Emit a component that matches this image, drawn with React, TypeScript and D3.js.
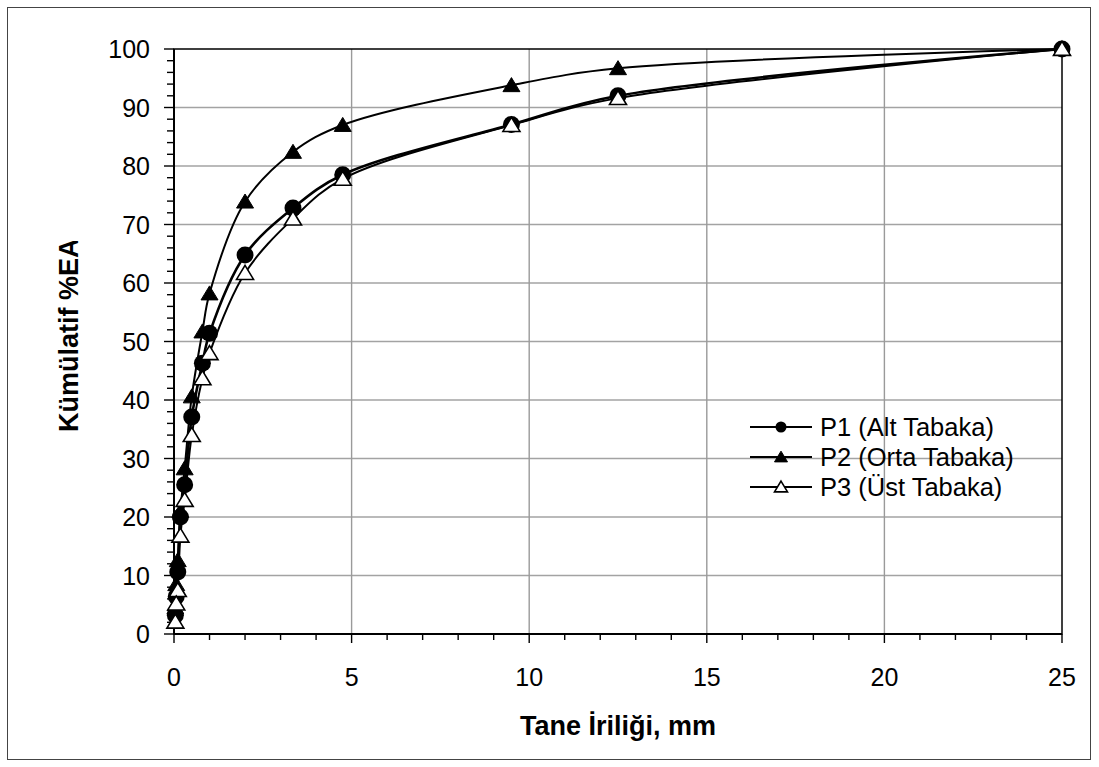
import React from 'react';
import * as d3 from 'd3';

// sieve openings (mm) and cumulative passing (%) for the three layers
const sieveSizes = [25, 12.5, 9.5, 4.75, 3.35, 2, 1, 0.8, 0.5, 0.3, 0.18, 0.106, 0.063, 0.038];
const p1Values = [100, 92, 87.1, 78.5, 72.8, 64.8, 51.4, 46.3, 37.1, 25.5, 20.0, 10.6, 6.4, 3.2];
const p2Values = [100, 96.7, 93.8, 87.0, 82.4, 73.9, 58.2, 51.7, 40.6, 28.3, 21.0, 12.6, 8.5, 4.5];
const p3Values = [100, 91.6, 87.0, 77.8, 71.0, 61.7, 48.0, 43.7, 34.0, 22.9, 16.8, 7.5, 5.2, 2.1];

const seriesNames = ['P1 (Alt Tabaka)', 'P2 (Orta Tabaka)', 'P3 (Üst Tabaka)'];
const xTitle = 'Tane İriliği, mm';
const yTitle = 'Kümülatif %EA';

const W = 1099, H = 767;
const left = 174, right = 1062, top = 49, bottom = 634;
const font = '"Liberation Sans", Arial, sans-serif';

const triPath = (s) => `M0,${-s * 0.9}L${s},${s * 0.75}L${-s},${s * 0.75}Z`;

function Marker({ kind, cx, cy, small }) {
    if (kind === 'circle') {
        return <circle cx={cx} cy={cy} r={small ? 5.5 : 8.5} fill="#000" />;
    }
    const s = small ? 6.5 : 8.5;
    return (
        <path d={triPath(s)} transform={`translate(${cx},${cy})`}
            fill={kind === 'tri' ? '#000' : '#fff'} stroke="#000"
            strokeWidth={kind === 'tri' ? 1 : 1.6} strokeLinejoin="miter" />
    );
}

export default function App() {
    const x = d3.scaleLinear().domain([0, 25]).range([left, right]);
    const y = d3.scaleLinear().domain([0, 100]).range([bottom, top]);

    const line = d3.line()
        .x(d => x(d[0]))
        .y(d => y(d[1]))
        .curve(d3.curveCatmullRom.alpha(0.5));

    const series = [
        { name: seriesNames[0], values: p1Values, kind: 'circle', width: 2.6 },
        { name: seriesNames[1], values: p2Values, kind: 'tri', width: 2 },
        { name: seriesNames[2], values: p3Values, kind: 'open', width: 2 },
    ];

    const xMajor = d3.range(0, 26, 5);
    const xMinor = d3.range(0, 26, 1);
    const yMajor = d3.range(0, 101, 10);
    const yMinor = d3.range(0, 101, 2);

    const legendRows = [427, 457, 487];

    return (
        <svg width={W} height={H} style={{ position: 'absolute', left: 0, top: 0, background: '#fff' }}
            fontFamily={font}>
            <defs>
                <clipPath id="ytitle-clip">
                    <rect x={0} y={241} width={120} height={300} />
                </clipPath>
            </defs>
            <rect x={0} y={0} width={W} height={H} fill="#fff" />
            <rect x={7.5} y={7.5} width={1083} height={752} fill="none" stroke="#444" strokeWidth={1} />

            {/* grid */}
            {yMajor.filter(v => v > 0 && v < 100).map(v => (
                <line key={'gy' + v} x1={left} x2={right} y1={y(v)} y2={y(v)} stroke="#a3a3a3" strokeWidth={1.4} />
            ))}
            {xMajor.filter(v => v > 0 && v < 25).map(v => (
                <line key={'gx' + v} x1={x(v)} x2={x(v)} y1={top} y2={bottom} stroke="#9a9a9a" strokeWidth={1.4} />
            ))}

            {/* plot frame */}
            <rect x={left} y={top} width={right - left} height={bottom - top} fill="none" stroke="#000" strokeWidth={1.5} />
            <line x1={left} x2={left} y1={top} y2={bottom} stroke="#000" strokeWidth={2} />
            <line x1={left} x2={right} y1={bottom} y2={bottom} stroke="#000" strokeWidth={2} />

            {/* ticks */}
            {yMinor.map(v => (
                <line key={'ty' + v} x1={left - (v % 10 === 0 ? 10 : 7)} x2={left} y1={y(v)} y2={y(v)} stroke="#000" strokeWidth={1.4} />
            ))}
            {xMinor.map(v => (
                <line key={'tx' + v} x1={x(v)} x2={x(v)} y1={bottom} y2={bottom + (v % 5 === 0 ? 9 : 6)} stroke="#000" strokeWidth={1.4} />
            ))}
            {yMajor.map(v => (
                <text key={'ly' + v} x={150} y={y(v)} dy="0.36em" textAnchor="end" fontSize={25}>{v}</text>
            ))}
            {xMajor.map(v => (
                <text key={'lx' + v} x={x(v)} y={677} dy="0.36em" textAnchor="middle" fontSize={25}>{v}</text>
            ))}

            {/* axis titles */}
            <text x={(left + right) / 2} y={725} dy="0.36em" textAnchor="middle" fontSize={27} fontWeight="bold">{xTitle}</text>
            <g clipPath="url(#ytitle-clip)">
                <text transform="translate(78,432) rotate(-90)" fontSize={27} fontWeight="bold">{yTitle}</text>
            </g>

            {/* series */}
            {series.map(s => (
                <path key={'l' + s.name} d={line(sieveSizes.map((v, i) => [v, s.values[i]]))}
                    fill="none" stroke="#000" strokeWidth={s.width} strokeLinejoin="round" />
            ))}
            {series.map(s => (
                <g key={'m' + s.name}>
                    {sieveSizes.map((v, i) => (
                        <Marker key={i} kind={s.kind} cx={x(v)} cy={y(s.values[i])} />
                    ))}
                </g>
            ))}

            {/* legend */}
            {series.map((s, i) => (
                <g key={'lg' + s.name}>
                    <line x1={750} x2={812} y1={legendRows[i]} y2={legendRows[i]} stroke="#000" strokeWidth={2} />
                    <Marker kind={s.kind} cx={781} cy={legendRows[i]} small />
                    <text x={820} y={legendRows[i]} dy="0.36em" fontSize={25.5}>{s.name}</text>
                </g>
            ))}
        </svg>
    );
}
